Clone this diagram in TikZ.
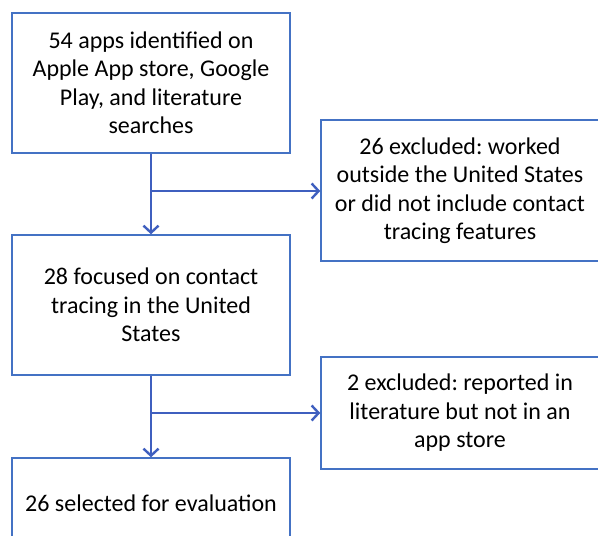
\documentclass[tikz,border=0pt]{standalone}
\usepackage{fontspec}
\setmainfont{Carlito}
\usetikzlibrary{arrows.meta}
\definecolor{boxblue}{HTML}{4472C4}
\definecolor{arrblue}{HTML}{3F5FBF}
\frenchspacing
\tikzset{
  box/.style={draw=boxblue, line width=1.4pt, fill=white, rectangle, align=center,
    inner sep=0pt, font=\fontsize{24}{28.5}\selectfont},
  arr/.style={draw=arrblue, line width=2.6pt, -{Straight Barb[length=7pt,width=15pt,line width=2.4pt]}}
}
\begin{document}
\begin{tikzpicture}[x=1pt,y=-1pt]
\useasboundingbox (0,0) rectangle (598,536);
\node[box, minimum width=278pt, minimum height=140pt] (b1) at (151,83) {54 apps identified on\\Apple App store, Google\\Play, and literature\\searches};
\node[box, minimum width=278pt, minimum height=141pt] (b2) at (460,190.5) {26 excluded: worked\\outside the United States\\or did not include contact\\tracing features};
\node[box, minimum width=278pt, minimum height=140pt] (b3) at (151,305) {28 focused on contact\\tracing in the United\\States};
\node[box, minimum width=278pt, minimum height=112pt] (b4) at (460,413) {2 excluded: reported in\\literature but not in an\\app store};
\node[box, minimum width=278pt, minimum height=90pt] (b5) at (151,503) {26 selected for evaluation};
\coordinate (j1) at (151,191);
\coordinate (j2) at (151,413);
\draw[arr] (b1.south) -- (b3.north);
\draw[arr] (j1) -- (j1 -| b2.west);
\draw[arr] (b3.south) -- (b5.north);
\draw[arr] (j2) -- (j2 -| b4.west);
\end{tikzpicture}
\end{document}
